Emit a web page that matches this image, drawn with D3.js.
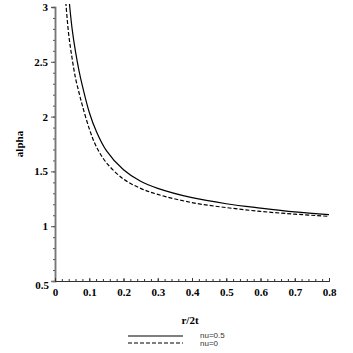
<!DOCTYPE html>
<meta charset="utf-8">
<style>
body { margin: 0; background: #fff; }
.tick text, .lbl { font-family: "Liberation Serif", "DejaVu Serif", serif; font-weight: bold; font-size: 11px; fill: #000; }
.leg { font-family: "Liberation Sans", Arial, sans-serif; font-size: 8px; fill: #333; }
.curve { fill: none; stroke: #000; stroke-width: 1.2; }
</style>
<body>
<script src="https://d3js.org/d3.v7.min.js"></script>
<script>
// values
var xSolid = [0.04, 0.05, 0.06, 0.07, 0.08, 0.1, 0.12, 0.15, 0.2, 0.25, 0.3, 0.4, 0.5, 0.6, 0.7, 0.8];
var ySolid = [3.1, 2.8, 2.59, 2.42, 2.28, 2.04, 1.87, 1.69, 1.515, 1.41, 1.345, 1.26, 1.205, 1.165, 1.13, 1.105];
var xDash = [0.03, 0.04, 0.05, 0.06, 0.07, 0.08, 0.1, 0.12, 0.15, 0.2, 0.25, 0.3, 0.4, 0.5, 0.6, 0.7, 0.8];
var yDash = [3.1, 2.75, 2.53, 2.35, 2.22, 2.1, 1.89, 1.73, 1.58, 1.43, 1.345, 1.29, 1.215, 1.17, 1.135, 1.11, 1.09];
var xTicks = [0, 0.1, 0.2, 0.3, 0.4, 0.5, 0.6, 0.7, 0.8];
var yTicks = [1, 1.5, 2, 2.5, 3];
var legendNames = ["nu=0.5", "nu=0"];

var W = 353, H = 353;
var x = d3.scaleLinear().domain([0, 0.8]).range([55, 329]);
var y = d3.scaleLinear().domain([0.5, 3]).range([281, 7]);

var svg = d3.select("body").append("svg").attr("width", W).attr("height", H);

svg.append("defs").append("clipPath").attr("id", "clip")
  .append("rect").attr("x", 55).attr("y", 4).attr("width", 280).attr("height", 277);

// y axis (ticks outward, left)
var yax = svg.append("g").attr("transform", "translate(55,0)");
yax.call(d3.axisLeft(y).tickValues(d3.range(0.5, 3.001, 0.1)).tickSize(2).tickFormat(""));
yax.append("g").call(d3.axisLeft(y).tickValues(yTicks).tickSize(4).tickFormat(d3.format("")));
yax.selectAll("path").attr("stroke", "#777").attr("stroke-width", 1.5);
yax.selectAll("line").attr("stroke", "#555");
yax.selectAll(".tick text").attr("x", -7);

svg.append("text").attr("class", "lbl").attr("x", 49).attr("y", 289)
  .attr("text-anchor", "end").text("0.5");

// x axis (ticks pointing up)
var xax = svg.append("g").attr("transform", "translate(0,281)");
xax.call(d3.axisTop(x).tickValues(d3.range(0, 0.8001, 0.02)).tickSize(2).tickFormat(""));
xax.append("g").call(d3.axisTop(x).tickValues(xTicks).tickSize(3).tickFormat(d3.format("")));
xax.selectAll("path").attr("stroke", "#333");
xax.selectAll("line").attr("stroke", "#333");
xax.selectAll("g g .tick text").attr("y", 15).attr("dy", 0);

svg.append("text").attr("class", "lbl").attr("x", 190).attr("y", 324)
  .attr("text-anchor", "middle").text("r/2t");
svg.append("text").attr("class", "lbl").attr("transform", "translate(23,144) rotate(-90)")
  .attr("text-anchor", "middle").text("alpha");

var line = d3.line().x(function(d) { return x(d[0]); }).y(function(d) { return y(d[1]); })
  .curve(d3.curveCatmullRom);

var g = svg.append("g").attr("clip-path", "url(#clip)");
g.append("path").attr("class", "curve").attr("d", line(d3.zip(xSolid, ySolid)));
g.append("path").attr("class", "curve").attr("stroke-dasharray", "4,2")
  .attr("d", line(d3.zip(xDash, yDash)));

// legend
var leg = svg.append("g");
legendNames.forEach(function(n, i) {
  var ly = 336 + i * 7;
  leg.append("line").attr("x1", 128).attr("x2", 183).attr("y1", ly).attr("y2", ly)
    .attr("stroke", "#000").attr("stroke-width", 1.2)
    .attr("stroke-dasharray", i ? "4,2" : null);
  leg.append("text").attr("class", "leg").attr("x", 200).attr("y", 338 + i * 8).text(n);
});
</script>
</body>
